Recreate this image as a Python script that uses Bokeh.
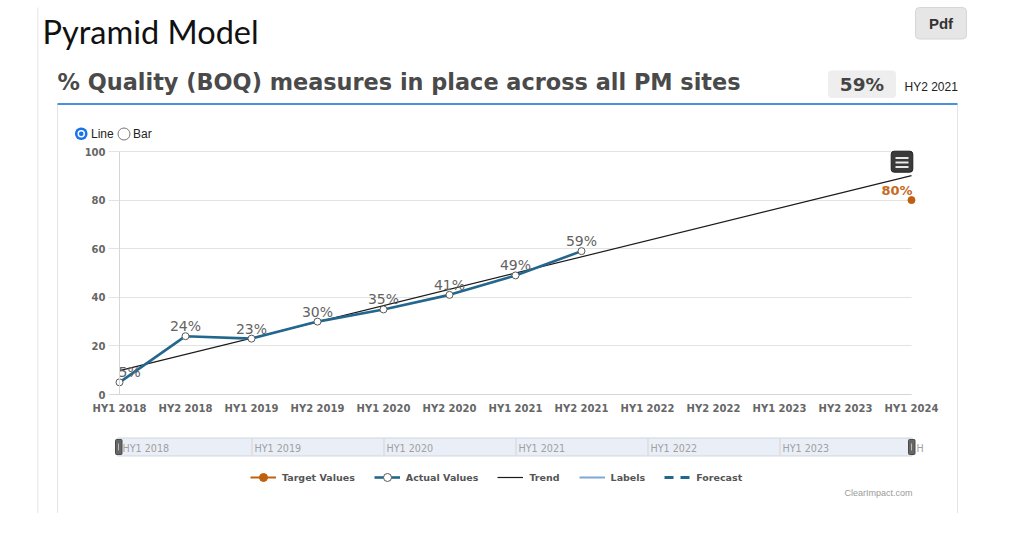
from bokeh.plotting import figure
from bokeh.models import (Range1d, Label, BoxAnnotation, Legend, LegendItem,
                          ColumnDataSource, FixedTicker)
from bokeh.core.properties import value
from bokeh.embed import file_html
from bokeh.resources import INLINE

# ---------------- data ----------------
categories = ["HY1 2018", "HY2 2018", "HY1 2019", "HY2 2019", "HY1 2020", "HY2 2020",
              "HY1 2021", "HY2 2021", "HY1 2022", "HY2 2022", "HY1 2023", "HY2 2023", "HY1 2024"]
actual_categories = ["HY1 2018", "HY2 2018", "HY1 2019", "HY2 2019", "HY1 2020",
                     "HY2 2020", "HY1 2021", "HY2 2021"]
actual_values = [5, 24, 23, 30, 35, 41, 49, 59]
target_categories = ["HY1 2024"]
target_values = [80]
trend_categories = ["HY1 2018", "HY1 2024"]
trend_values = [9.8, 90.1]
y_ticks = [0, 20, 40, 60, 80, 100]
navigator_labels = ["HY1 2018", "HY1 2019", "HY1 2020", "HY1 2021", "HY1 2022", "HY1 2023"]
page_title = "Pyramid Model"
chart_title = "% Quality (BOQ) measures in place across all PM sites"
current_value = "59%"
current_period = "HY2 2021"
legend_labels = ["Target Values", "Actual Values", "Trend", "Labels", "Forecast"]

# ---------------- colours ----------------
ACTUAL = "#23678f"
TARGET = "#c0600f"
GRID = "#e3e3e3"
AXIS = "#d6d6d6"
LABEL_GRAY = "#666666"

idx = {c: i for i, c in enumerate(categories)}
NAN = float("nan")

# canvas geometry: the frame fills the whole canvas; the plot region is placed by the ranges
W, H = 1018, 532
X0_PX, X12_PX = 119, 911          # pixel of first / last category
Y0_PX, Y100_PX = 394, 151         # pixel of 0 / 100
sx = (X12_PX - X0_PX) / 12.0
sy = (Y0_PX - Y100_PX) / 100.0

p = figure(width=W, height=H, output_backend="svg", toolbar_location=None,
           x_range=Range1d(-X0_PX / sx, 12 + (W - X12_PX) / sx),
           y_range=Range1d(-(H - Y0_PX) / sy, 100 + Y100_PX / sy),
           min_border=0, min_border_left=0, min_border_right=0,
           min_border_top=0, min_border_bottom=0)
p.outline_line_color = None
p.background_fill_color = "white"
p.border_fill_color = "white"
p.extra_x_ranges = {"px": Range1d(0, W)}
p.extra_y_ranges = {"py": Range1d(H, 0)}

# axes drawn at fixed data locations (they take no side space)
xa = p.xaxis[0]
xa.fixed_location = 0
xa.bounds = (-9 / sx, 12)
xa.ticker = FixedTicker(ticks=list(range(len(categories))))
xa.major_label_overrides = {i: c for i, c in enumerate(categories)}
xa.major_tick_out = 0
xa.major_tick_in = 0
xa.minor_tick_out = 0
xa.minor_tick_in = 0
xa.axis_line_color = AXIS
xa.major_label_standoff = 8
xa.major_label_text_font = "DejaVu Sans"
xa.major_label_text_font_style = "bold"
xa.major_label_text_font_size = "10px"
xa.major_label_text_color = LABEL_GRAY

ya = p.yaxis[0]
ya.fixed_location = 0
ya.bounds = (0, 100)
ya.ticker = FixedTicker(ticks=y_ticks)
ya.axis_line_color = AXIS
ya.major_tick_out = 0
ya.major_tick_in = 0
ya.minor_tick_out = 0
ya.minor_tick_in = 0
ya.major_label_standoff = 14
ya.major_label_text_font = "DejaVu Sans"
ya.major_label_text_font_style = "bold"
ya.major_label_text_font_size = "10px"
ya.major_label_text_color = LABEL_GRAY

p.xgrid.grid_line_color = None
g = p.ygrid[0]
g.ticker = FixedTicker(ticks=y_ticks)
if "cross_bounds" in g.properties():
    g.cross_bounds = (-11 / sx, 12)
    g.grid_line_color = GRID
else:
    g.grid_line_color = None
    p.segment(x0=-11 / sx, x1=12, y0=y_ticks, y1=y_ticks, line_color=GRID, line_width=1)

# ---------------- series ----------------
ax = [idx[c] for c in actual_categories]
tx = [idx[c] for c in target_categories]
trx = [idx[c] for c in trend_categories]

trend_r = p.line(trx, trend_values, line_color="#1a1a1a", line_width=1.2)
actual_line = p.line(ax, actual_values, line_color=ACTUAL, line_width=2.6)
actual_pts = p.scatter(ax, actual_values, size=7, marker="circle", fill_color="white",
                       line_color="#5a5a5a", line_width=1)
# legend-only series (no drawable data)
target_line = p.line([NAN], [NAN], line_color=TARGET, line_width=2)
labels_r = p.line([NAN], [NAN], line_color="#7fa6d6", line_width=2)
forecast_r = p.line([NAN], [NAN], line_color=ACTUAL, line_width=3, line_dash="9 7")
target_pts = p.scatter(tx, target_values, size=7, marker="circle", fill_color=TARGET,
                       line_color=TARGET)

lab_src = ColumnDataSource(dict(
    x=ax, y=actual_values, t=[f"{v}%" for v in actual_values],
    align=["left"] + ["center"] * (len(ax) - 1),
    xo=[-1] + [0] * (len(ax) - 1)))
p.text(x="x", y="y", text="t", source=lab_src, text_align="align", x_offset="xo",
       y_offset=-10, text_baseline="alphabetic", text_font=value("DejaVu Sans"),
       text_font_size="14px", text_color="#636363")
p.text(x=tx, y=target_values, text=[f"{v}%" for v in target_values], text_align="right",
       x_offset=1, y_offset=-10, text_baseline="alphabetic", text_font=value("DejaVu Sans"),
       text_font_style="bold", text_font_size="13px", text_color="#c66a1f")

# ---------------- legend ----------------
legend = Legend(items=[
    LegendItem(label=legend_labels[0], renderers=[target_line, target_pts]),
    LegendItem(label=legend_labels[1], renderers=[actual_line, actual_pts]),
    LegendItem(label=legend_labels[2], renderers=[trend_r]),
    LegendItem(label=legend_labels[3], renderers=[labels_r]),
    LegendItem(label=legend_labels[4], renderers=[forecast_r]),
], orientation="horizontal", location=(250, H - 487), padding=0, margin=0,
    spacing=19, glyph_width=26, glyph_height=20, label_standoff=6,
    label_text_font="DejaVu Sans", label_text_font_style="bold",
    label_text_font_size="9.5px", label_text_color="#555555",
    border_line_color=None, background_fill_alpha=0)
p.add_layout(legend)


# ---------------- page decorations (pixel coordinates) ----------------
def box(l, t, r, b, fill, line=None, radius=0, xr="px"):
    p.add_layout(BoxAnnotation(left=l, right=r, top=t, bottom=b,
                               x_range_name=xr, y_range_name="py",
                               fill_color=fill, fill_alpha=1,
                               line_color=line if line else fill,
                               line_alpha=1 if line else 0, line_width=1,
                               border_radius=int(round(radius))))


def label(x, y, text, font="Liberation Sans", size=12, color="#222",
          style="normal", align="left", baseline="alphabetic", xr="px", xo=0):
    # y is the wanted baseline (or middle); compensate the renderer's baseline shift
    yy = y - 0.375 * size if baseline == "alphabetic" else y
    p.add_layout(Label(x=x, y=yy, text=text, x_range_name=xr, y_range_name="py",
                       x_offset=xo, text_font=font, text_font_size=f"{size}px",
                       text_color=color, text_font_style=style, text_align=align,
                       text_baseline=baseline))


# card borders
box(36.5, 7, 38, 512.5, "#eeeeee")
box(56.5, 104, 57.5, 512.5, "#e4e4e4")
box(956.5, 104, 957.5, 512.5, "#e4e4e4")
box(57, 102.5, 957, 104.5, "#4a90e2")

# titles
label(42, 43.5, page_title, font="Lato", size=32.5, color="#111111")
label(57, 89.5, chart_title, font="DejaVu Sans", size=22.4, color="#4a4a4a", style="bold")

# KPI box
box(827.5, 70, 895.5, 97.5, "#eeeeee", radius=4)
label(861.5, 90.7, current_value, font="DejaVu Sans", size=18.5, color="#444444",
      style="bold", align="center")
label(904, 90.7, current_period, size=12, color="#222222")

# Pdf button
box(915, 7, 966, 38.5, "#e6e6e6", line="#d6d6d6", radius=4)
label(940.5, 28.3, "Pdf", size=15, color="#333333", style="bold", align="center")

# radio buttons
box(74.5, 127, 87, 139.5, "#1a73e8", radius=6)
box(77, 129.5, 84.5, 137, "white", radius=4)
box(78.5, 131, 83, 135.5, "#1a73e8", radius=2)
label(90.5, 137.5, "Line", size=12, color="#222222")
box(117.5, 127.5, 129.5, 139.5, "white", line="#767676", radius=6)
label(132.5, 137.5, "Bar", size=12, color="#222222")

# context menu icon
box(890.7, 150.7, 912.3, 171.7, "#3a3a3a", line="#222222", radius=3)
for yy in (156.5, 161, 165.5):
    box(895, yy, 908, yy + 2, "#e8e8e8")

# navigator
box(116.5, 437.5, 912, 455.5, "#eaeff7", line="#d0d5dd", radius=1)
for k, name in enumerate(navigator_labels):
    pos = idx[name]
    if k > 0:
        box(pos, 438, pos + 1 / sx, 455, "#d0d5dd", xr="default")
    label(pos, 447.5, name, font="DejaVu Sans", size=9.6, color="#a0a0a0",
          baseline="middle", xr="default", xo=3)
label(916, 447.5, categories[-1][0], font="DejaVu Sans", size=9.6, color="#a0a0a0",
      baseline="middle")
for l in (115, 908):
    box(l, 439, l + 6.5, 454, "#666666", line="#4a4a4a", radius=1)
    box(l + 2.5, 443, l + 3.5, 450, "#bbbbbb")

label(912, 495.5, "ClearImpact.com", size=9, color="#9a9a9a", align="right")

open("out.html", "w").write(file_html(p, INLINE))
